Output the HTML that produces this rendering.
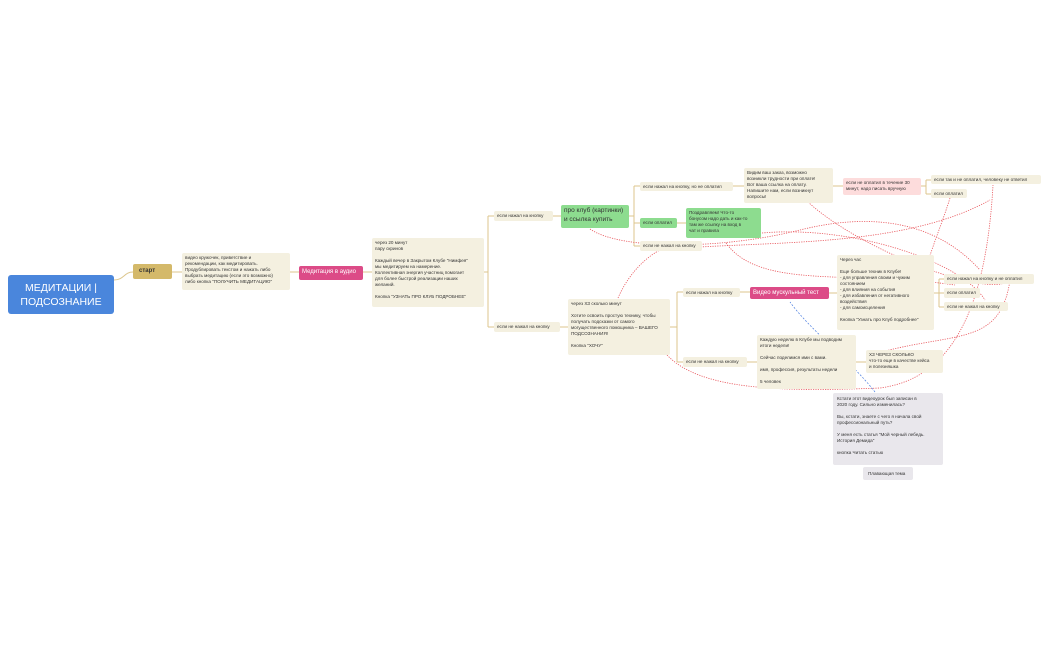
<!DOCTYPE html>
<html><head><meta charset="utf-8"><style>
body{margin:0;width:1050px;height:650px;background:#fff;position:relative;overflow:hidden;font-family:"Liberation Sans",sans-serif}
.n{position:absolute;box-sizing:border-box;background:#f4f0e0;border-radius:2px;font-size:4.6px;line-height:6px;color:#333;padding:2px 3px;white-space:nowrap}
.g{background:#8ddc8f}
.p{background:#dc4b87;color:#fff;font-size:6px;line-height:10px;padding:1px 3px}
svg{position:absolute;left:0;top:0}
</style></head><body>
<svg width="1050" height="650">
<g fill="none" stroke="#dcc68c" stroke-width="1">
<path d="M114 280 C124 280 124 272 133 272"/>
<path d="M172 272 L182 272"/>
<path d="M290 272 L299 272"/>
<path d="M363 272 L372 272"/>
<path d="M484 272 L488 272 M488 216 L488 327 M488 216 L494 216 M488 327 L494 327"/>
<path d="M553 216 L561 216"/>
<path d="M629 216 L634 216 M634 186 L634 246 M634 186 L640 186 M634 223 L640 223 M634 246 L640 246"/>
<path d="M733 186 L744 186 M677 223 L686 223 M833 186 L843 186 M921 186 L926 186 M926 180 L926 194 M926 180 L931 180 M926 194 L931 194"/>
<path d="M560 327 L568 327 M670 327 L677 327 M677 292 L677 362 M677 292 L683 292 M677 362 L683 362"/>
<path d="M740 292 L750 292 M829 293 L837 293 M934 293 L939 293 M939 279 L939 307 M939 279 L944 279 M939 293 L944 293 M939 307 L944 307"/>
<path d="M747 362 L757 362 M856 362 L866 362"/>
</g>
<g fill="none" stroke="#e8545a" stroke-width="0.8" stroke-dasharray="1.2 1.2">
<path d="M590 229 C620 250 720 250 800 230 C860 215 930 215 980 270"/>
<path d="M618 298 C630 270 650 255 660 250 C760 240 900 250 990 200"/>
<path d="M762 233 C850 225 960 260 985 300"/>
<path d="M726 243 C760 290 850 270 955 285"/>
<path d="M808 202 C860 250 990 300 1010 280 C1000 350 950 330 868 356"/>
<path d="M667 355 C700 390 780 392 880 388 C940 380 985 330 993 185"/>
<path d="M950 198 C940 230 930 250 920 290"/>
</g>
<path d="M875 392 C850 360 810 330 790 302" fill="none" stroke="#4a7de0" stroke-width="0.7" stroke-dasharray="2 1.5"/>
</svg>
<div class="n" style="left:8px;top:275px;width:106px;height:39px;background:#4a86dc;color:#fff;font-size:10.5px;line-height:14px;text-align:center;padding:6px 2px;border-radius:3px">МЕДИТАЦИИ |<br>ПОДСОЗНАНИЕ</div>
<div class="n" style="left:133px;top:264px;width:39px;height:15px;background:#d4b96a;font-size:6px;line-height:11px;font-weight:bold;padding-left:6px">старт</div>
<div class="n" style="left:182px;top:253px;width:108px;height:37px">видео кружочек, приветствие и<br>рекомендации, как медитировать.<br>Продублировать текстом и нажать либо<br>выбрать медитацию (если это возможно)<br>либо кнопка "ПОЛУЧИТЬ МЕДИТАЦИЮ"</div>
<div class="p n" style="left:299px;top:266px;width:64px;height:14px">Медитация в аудио</div>
<div class="n" style="left:372px;top:238px;width:112px;height:69px">через 20 минут<br>пару скринов<br><br>Каждый вечер в Закрытом Клубе "Нимфея"<br>мы медитируем на намерение.<br>Коллективная энергия участниц помогает<br>для более быстрой реализации наших<br>желаний.<br><br>Кнопка "УЗНАТЬ ПРО КЛУБ ПОДРОБНЕЕ"</div>
<div class="n" style="left:494px;top:211px;width:59px;height:10px">если нажал на кнопку</div>
<div class="n" style="left:494px;top:322px;width:66px;height:10px">если не нажал на кнопку</div>
<div class="n g" style="left:561px;top:205px;width:68px;height:23px;font-size:6.5px;line-height:8.5px">про клуб (картинки)<br>и ссылка купить</div>
<div class="n" style="left:640px;top:182px;width:93px;height:9px">если нажал на кнопку, но не оплатил</div>
<div class="n g" style="left:640px;top:218px;width:37px;height:10px">если оплатил</div>
<div class="n" style="left:640px;top:241px;width:62px;height:10px">если не нажал на кнопку</div>
<div class="n" style="left:744px;top:168px;width:89px;height:35px">Видим ваш заказ, возможно<br>возникли трудности при оплате!<br>Вот ваша ссылка на оплату.<br>Напишите нам, если возникнут<br>вопросы!</div>
<div class="n g" style="left:686px;top:208px;width:75px;height:30px">Поздравляем! Что-то<br>бонусом надо дать и как-то<br>там же ссылку на вход в<br>чат и правила</div>
<div class="n" style="left:843px;top:178px;width:78px;height:17px;background:#fddcdc">если не оплатил в течение 30<br>минут, надо писать вручную</div>
<div class="n" style="left:931px;top:175px;width:110px;height:9px">если так и не оплатил, человеку не ответил</div>
<div class="n" style="left:931px;top:189px;width:36px;height:9px">если оплатил</div>
<div class="n" style="left:568px;top:299px;width:102px;height:56px">через ХЗ сколько минут<br><br>Хотите освоить простую технику, чтобы<br>получать подсказки от самого<br>могущественного помощника – ВАШЕГО<br>ПОДСОЗНАНИЯ!<br><br>Кнопка "ХОЧУ"</div>
<div class="n" style="left:683px;top:288px;width:57px;height:9px">если нажал на кнопку</div>
<div class="n" style="left:683px;top:357px;width:64px;height:10px">если не нажал на кнопку</div>
<div class="p n" style="left:750px;top:287px;width:79px;height:12px;line-height:10px">Видео мускульный тест</div>
<div class="n" style="left:837px;top:255px;width:97px;height:75px">Через час<br><br>Еще больше техник в Клубе!<br>- для управления своим и чужим<br>состоянием<br>- для влияния на события<br>- для избавления от негативного<br>воздействия<br>- для самоисцеления<br><br>Кнопка "Узнать про Клуб подробнее"</div>
<div class="n" style="left:944px;top:274px;width:90px;height:10px">если нажал на кнопку и не оплатил</div>
<div class="n" style="left:944px;top:288px;width:36px;height:10px">если оплатил</div>
<div class="n" style="left:944px;top:302px;width:64px;height:9px">если не нажал на кнопку</div>
<div class="n" style="left:757px;top:335px;width:99px;height:54px">Каждую неделю в Клубе мы подводим<br>итоги недели!<br><br>Сейчас поделимся ими с вами.<br><br>имя, профессия, результаты недели<br><br>5 человек</div>
<div class="n" style="left:866px;top:350px;width:77px;height:23px">ХЗ ЧЕРЕЗ СКОЛЬКО<br>что-то еще в качестве кейса<br>и полезняшка</div>
<div class="n" style="left:833px;top:393px;width:110px;height:72px;background:#e9e7ec;padding:3px 4px">Кстати этот видеоурок был записан в<br>2020 году. Сильно изменилась?<br><br>Вы, кстати, знаете с чего я начала свой<br>профессиональный путь?<br><br>У меня есть статья "Мой черный лебедь.<br>История Демида"<br><br>кнопка Читать статью</div>
<div class="n" style="left:863px;top:467px;width:50px;height:13px;background:#e9e7ec;line-height:9px;padding-left:5px">Плавающая тема</div>
</body></html>
